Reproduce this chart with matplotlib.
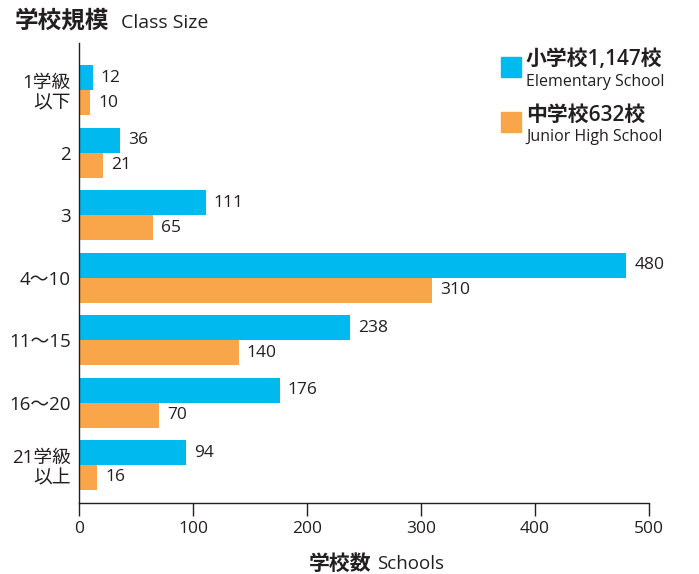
import numpy as np
import matplotlib
matplotlib.use('Agg')
import matplotlib.pyplot as plt
from matplotlib.patches import Rectangle

plt.rcParams['font.family'] = ['Open Sans', 'Noto Sans CJK JP', 'DejaVu Sans']

categories = ['1学級\n以下', '2', '3', '4～10', '11～15', '16～20', '21学級\n以上']
elementary = [12, 36, 111, 480, 238, 176, 94]
junior = [10, 21, 65, 310, 140, 70, 16]
xticks = [0, 100, 200, 300, 400, 500]

blue = '#00B9EF'
orange = '#F9A54A'
ink = '#231F20'

fig = plt.figure(figsize=(6.99, 5.74), dpi=100)
ax = fig.add_axes([0.113, 0.1237, 0.8155, 0.8013])

y = np.arange(len(categories))
h = 0.4
ax.barh(y - h / 2, elementary, height=h, color=blue)
ax.barh(y + h / 2, junior, height=h, color=orange)

for yi, v in zip(y, elementary):
    ax.text(v + 7, yi - h / 2, str(v), va='center', ha='left', fontsize=12.5, color=ink)
for yi, v in zip(y, junior):
    ax.text(v + 7, yi + h / 2, str(v), va='center', ha='left', fontsize=12.5, color=ink)

ax.set_xlim(0, 500)
ax.set_ylim(6.608, -0.752)
ax.set_xticks(xticks)
ax.set_yticks(y)
ax.set_yticklabels(categories, linespacing=1.15)
ax.tick_params(axis='y', length=0, pad=6, labelsize=13.5, labelcolor=ink)
ax.tick_params(axis='x', length=9, width=1, pad=4, labelsize=12.5, labelcolor=ink, color=ink)
for s in ['top', 'right']:
    ax.spines[s].set_visible(False)
for s in ['left', 'bottom']:
    ax.spines[s].set_color(ink)
    ax.spines[s].set_linewidth(1)

# title
fig.text(0.021, 0.962, '学校規模', fontsize=17, fontweight='bold', color=ink, va='center', ha='left')
fig.text(0.173, 0.960, 'Class Size', fontsize=14, color=ink, va='center', ha='left')

# x label
fig.text(0.532, 0.017, '学校数', fontsize=15, fontweight='bold', color=ink, va='center', ha='right')
fig.text(0.539, 0.017, 'Schools', fontsize=13.5, color=ink, va='center', ha='left')

# legend
legend_items = [(blue, '小学校1,147校', 'Elementary School'),
                (orange, '中学校632校', 'Junior High School')]
for i, (c, jp, en) in enumerate(legend_items):
    top = 57 + i * 55
    fig.patches.append(Rectangle((501 / 699, 1 - (top + 20) / 574), 20 / 699, 20 / 574,
                                 transform=fig.transFigure, color=c))
    fig.text(526 / 699, 1 - (top + 3) / 574, jp, fontsize=15, fontweight='semibold',
             color=ink, va='center', ha='left')
    fig.text(526 / 699, 1 - (top + 25) / 574, en, fontsize=11.5, color=ink,
             va='center', ha='left')

fig.savefig('out.png', dpi=100)
